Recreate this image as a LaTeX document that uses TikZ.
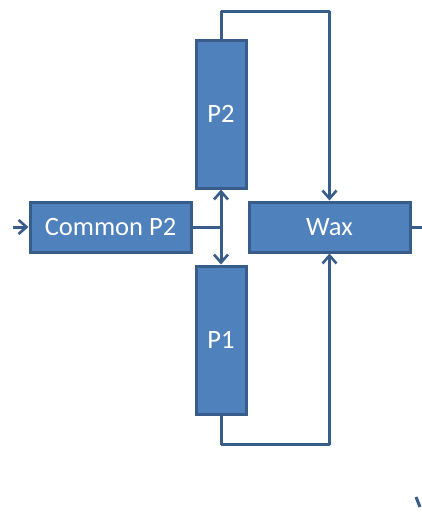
\documentclass[tikz,border=0pt]{standalone}
\usepackage{fontspec}
\setmainfont{Carlito}
\usetikzlibrary{arrows.meta}
\definecolor{boxfill}{HTML}{4F81BD}
\definecolor{boxline}{HTML}{385D8A}
\begin{document}
\begin{tikzpicture}[x=1pt,y=-1pt,
  blk/.style={draw=boxline,fill=boxfill,line width=3pt,text=white,
    inner sep=0pt,font=\fontsize{26.5}{30}\selectfont},
  conn/.style={draw=boxline,line width=3pt,line join=round},
  tip/.style={-{Straight Barb[length=8pt,width=14pt,line width=2.6pt]}}]
\useasboundingbox (0,0) rectangle (422,512);
% boxes
\node[blk,minimum width=161pt,minimum height=50pt] (cp) at (110.5,227) {Common P2};
\node[blk,minimum width=50pt,minimum height=148pt] (p2) at (221,114) {P2};
\node[blk,minimum width=50pt,minimum height=148pt] (p1) at (221,340) {P1};
\node[blk,minimum width=161pt,minimum height=50pt] (wax) at (329.5,227) {Wax};
% junction and free ends
\coordinate (j) at (221,227);
\coordinate (in) at (13,227);
\coordinate (out) at (424,227);
\coordinate (top) at (221,11);
\coordinate (bot) at (221,444);
% connectors
\draw[conn,tip] (in) -- (cp.west);
\draw[conn] (cp.east) -- (j);
\draw[conn,tip] (j) -- (p2.south);
\draw[conn,tip] (j) -- (p1.north);
\draw[conn,tip] (p2.north) -- (top) -| (wax.north);
\draw[conn,tip] (p1.south) -- (bot) -| (wax.south);
\draw[conn] (wax.east) -- (out);
% stray stroke at the lower right
\coordinate (s1) at (416,497);
\coordinate (s2) at (420,507);
\draw[conn] (s1) -- (s2);
\end{tikzpicture}
\end{document}
